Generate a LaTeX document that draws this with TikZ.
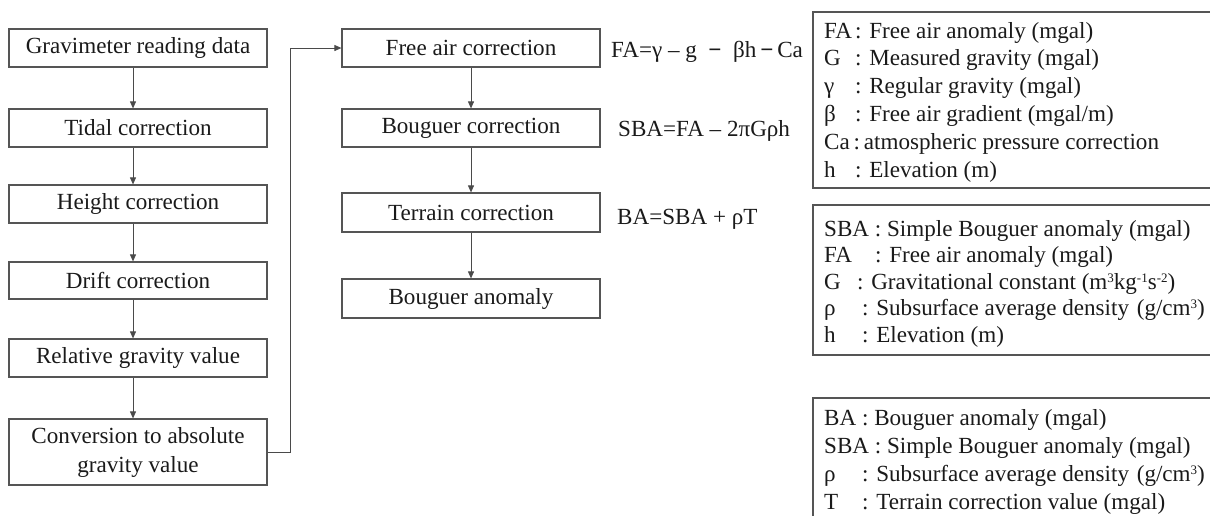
\documentclass[tikz,border=0pt]{standalone}
\usepackage{fontspec}
\setmainfont{Liberation Serif}
\usetikzlibrary{arrows.meta}

\definecolor{ink}{HTML}{1A1A1A}
\definecolor{frame}{HTML}{555555}
\definecolor{wire}{HTML}{4A4A4A}

% legend line: label in a fixed-width slot, then the colon and description
\newcommand{\legline}[3]{\makebox[#1pt][l]{#2}#3}
% heavy minus used in the free-air formula
\newcommand{\hminus}{{\bfseries −}}
% small raised exponent for units
\newcommand{\upidx}[1]{\raisebox{0.62ex}{\fontsize{13}{13}\selectfont #1}}

\begin{document}
\begin{tikzpicture}[x=1pt,y=-1pt,
  every node/.style={text=ink,font=\fontsize{23.1}{29}\selectfont},
  stepbox/.style={draw=frame,line width=1.2pt,minimum width=258pt,minimum height=38pt,inner sep=0pt,align=center},
  flow/.style={draw=wire,line width=0.9pt,-{Triangle[length=7pt,width=6pt]}},
  legbox/.style={draw=frame,line width=1.2pt},
  legtext/.style={anchor=base west,inner sep=0pt},
  formula/.style={anchor=base west,inner sep=0pt}]
\useasboundingbox (0,0) rectangle (1210,515);

% ---- processing chain ----
\node[stepbox] (read)  at (138,48)    {Gravimeter reading data};
\node[stepbox] (tide)  at (138,128)   {Tidal correction};
\node[stepbox] (hgt)   at (138,204)   {Height correction};
\node[stepbox,minimum height=37pt] (drift) at (138,280.5) {Drift correction};
\node[stepbox] (rel)   at (138,358)   {Relative gravity value};
\node[stepbox,minimum height=66pt] (abs) at (138,452) {Conversion to absolute\\gravity value};

\foreach \a/\b in {read/tide,tide/hgt,hgt/drift,drift/rel,rel/abs}
  \draw[flow] ([xshift=-5pt]\a.south) -- ([xshift=-5pt]\b.north);

% ---- anomaly reduction ----
\node[stepbox] (free) at (471,48)    {Free air correction};
\node[stepbox] (boug) at (471,128)   {Bouguer correction};
\node[stepbox,minimum height=39pt] (terr) at (471,212.5) {Terrain correction};
\node[stepbox,minimum height=39pt] (ban)  at (471,298.5) {Bouguer anomaly};

\foreach \a/\b in {free/boug,boug/terr,terr/ban}
  \draw[flow] (\a.south) -- (\b.north);

\coordinate (r1) at (290,452);
\coordinate (r2) at (290,48);
\draw[flow] (abs.east) -- (r1) -- (r2) -- (free.west);

% ---- formulas ----
\node[formula] (f1) at (611,57)  {FA=γ – g\enspace\hminus\enspace βh\,\hminus\,Ca};
\node[formula] (f2) at (618,136) {SBA=FA – 2πGρh};
\node[formula] (f3) at (617,224) {BA=SBA + ρT};

% ---- symbol legends (running off the right edge) ----
\begin{scope}
\clip (0,0) rectangle (1210,515);
\draw[legbox] (813,12) rectangle (1230,188);
\draw[legbox] (813,205) rectangle (1230,355);
\draw[legbox] (813,398) rectangle (1230,540);
\end{scope}

\node[legtext] (a1) at (824,38)    {\legline{31}{FA}{: Free air anomaly (mgal)}};
\node[legtext] (a2) at (824,65.8)  {\legline{31}{G}{: Measured gravity (mgal)}};
\node[legtext] (a3) at (824,93.6)  {\legline{31}{γ}{: Regular gravity (mgal)}};
\node[legtext] (a4) at (824,121.4) {\legline{31}{β}{: Free air gradient (mgal/m)}};
\node[legtext] (a5) at (824,149.2) {Ca\,:\,atmospheric pressure correction};
\node[legtext] (a6) at (824,177)   {\legline{31}{h}{: Elevation (m)}};

\node[legtext] (b1) at (824,236)   {SBA : Simple Bouguer anomaly (mgal)};
\node[legtext] (b2) at (824,262.5) {\legline{51}{FA}{: Free air anomaly (mgal)}};
\node[legtext] (b3) at (824,289)   {\legline{33}{G}{: Gravitational constant (m\upidx{3}kg\upidx{-1}s\upidx{-2})}};
\node[legtext] (b4) at (824,315.5) {\legline{38}{ρ}{: Subsurface average density\kern2pt\ (g/cm\upidx{3})}};
\node[legtext] (b5) at (824,342)   {\legline{38}{h}{: Elevation (m)}};

\node[legtext] (c1) at (824,425) {BA : Bouguer anomaly (mgal)};
\node[legtext] (c2) at (824,453) {SBA : Simple Bouguer anomaly (mgal)};
\node[legtext] (c3) at (824,481) {\legline{38}{ρ}{: Subsurface average density\kern2pt\ (g/cm\upidx{3})}};
\node[legtext] (c4) at (824,509) {\legline{38}{T}{: Terrain correction value (mgal)}};
\end{tikzpicture}
\end{document}
